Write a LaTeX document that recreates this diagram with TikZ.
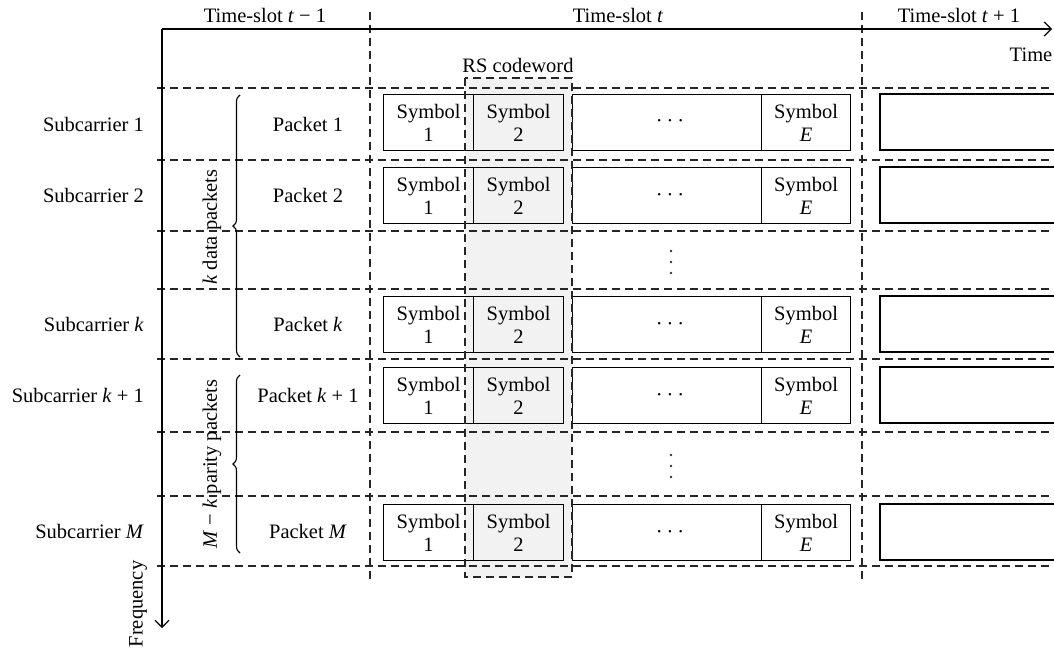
\documentclass[tikz,border=0pt]{standalone}
\usepackage{fontspec}
\setmainfont{Liberation Serif}
\usetikzlibrary{arrows.meta,decorations.pathreplacing}
\tikzset{
  grid/.style={line width=1.1pt, dash pattern=on 8pt off 5pt, draw=black!85},
  axis/.style={line width=1.2pt, -{Straight Barb[length=7pt,width=14pt]}},
  cell/.style={draw, line width=1.2pt, minimum height=56pt, inner sep=0pt, anchor=north west, align=center, font=\fontsize{20.5}{23}\selectfont},
  lbl/.style={inner sep=0pt},
  vdot/.style={fill=black!80},
  bracestyle/.style={decorate, decoration={brace, amplitude=7pt}, line width=1.1pt}
}
\begin{document}
\begin{tikzpicture}[x=1pt, y=-1pt, font=\fontsize{20.5}{23}\selectfont]
\useasboundingbox (0,0) rectangle (1054,650);

% RS codeword column shading
\fill[black!5] (465,78) rectangle (572,577);

% time-slot separators
\draw[grid] (370,12) -- (370,583);
\draw[grid] (862,12) -- (862,583);

% subcarrier separators
\foreach \y in {88,160,231,289,359,432,496,566}
  \draw[grid] (157,\y) -- (1054,\y);

% axes
\coordinate (origin) at (162,29);
\coordinate (tend) at (1052,29);
\coordinate (fend) at (162,628);
\draw[axis] (origin) -- (tend);
\draw[axis] (origin) -- (fend);

% headings
\node[lbl] (ts0) at (265,15) {Time-slot \textit{t} − 1};
\node[lbl] (ts1) at (618,15) {Time-slot \textit{t}};
\node[lbl] (ts2) at (959,15) {Time-slot \textit{t} + 1};
\node[lbl] (time) at (1031,55) {Time};
\node[lbl] (rs) at (518,65) {RS codeword};
\node[lbl, rotate=90] (freq) at (138,604) {Frequency};

% packet rows
\foreach \i/\c/\bt/\lab in {1/124/94/1, 2/195.5/167/2, 3/324/296/\textit{k}, 4/395.5/367/{\textit{k} + 1}, 5/531/504/\textit{M}} {
  \node[lbl, anchor=east] (sub\i) at (144,\c) {Subcarrier \lab};
  \node[lbl] (pk\i) at (308,\c) {Packet \lab};
  \node[cell, minimum width=90pt] (sa\i) at (383,\bt) {Symbol\\1};
  \node[cell, minimum width=90pt] (sb\i) at (473,\bt) {Symbol\\2};
  \node[cell, minimum width=189pt] (sd\i) at (572,\bt) {};
  \node[lbl] (hd\i) at (670,\bt+30) {·\hspace{4pt}·\hspace{4pt}·};
  \node[cell, minimum width=89pt] (se\i) at (761,\bt) {Symbol\\\textit{E}};
  \draw[line width=1.2pt] (1056,\bt) -| (880,\bt+56) -- (1056,\bt+56);
}

% vertical ellipses
\foreach \yc in {262,466}
  \foreach \d in {-11,0,11}
    \fill[vdot] (671,\yc+\d) circle (1.4pt);

% RS codeword outline
\draw[grid] (465,78) rectangle (572,577);

% braces and group labels
\draw[bracestyle] (240,357) -- (240,95);
\draw[bracestyle] (240,553) -- (240,375);
\node[lbl, rotate=90] (kdata) at (212,227) {\textit{k} data packets};
\node[lbl, rotate=90] (mpar) at (212,464) {\textit{M} − \textit{k} parity packets};
\end{tikzpicture}
\end{document}
